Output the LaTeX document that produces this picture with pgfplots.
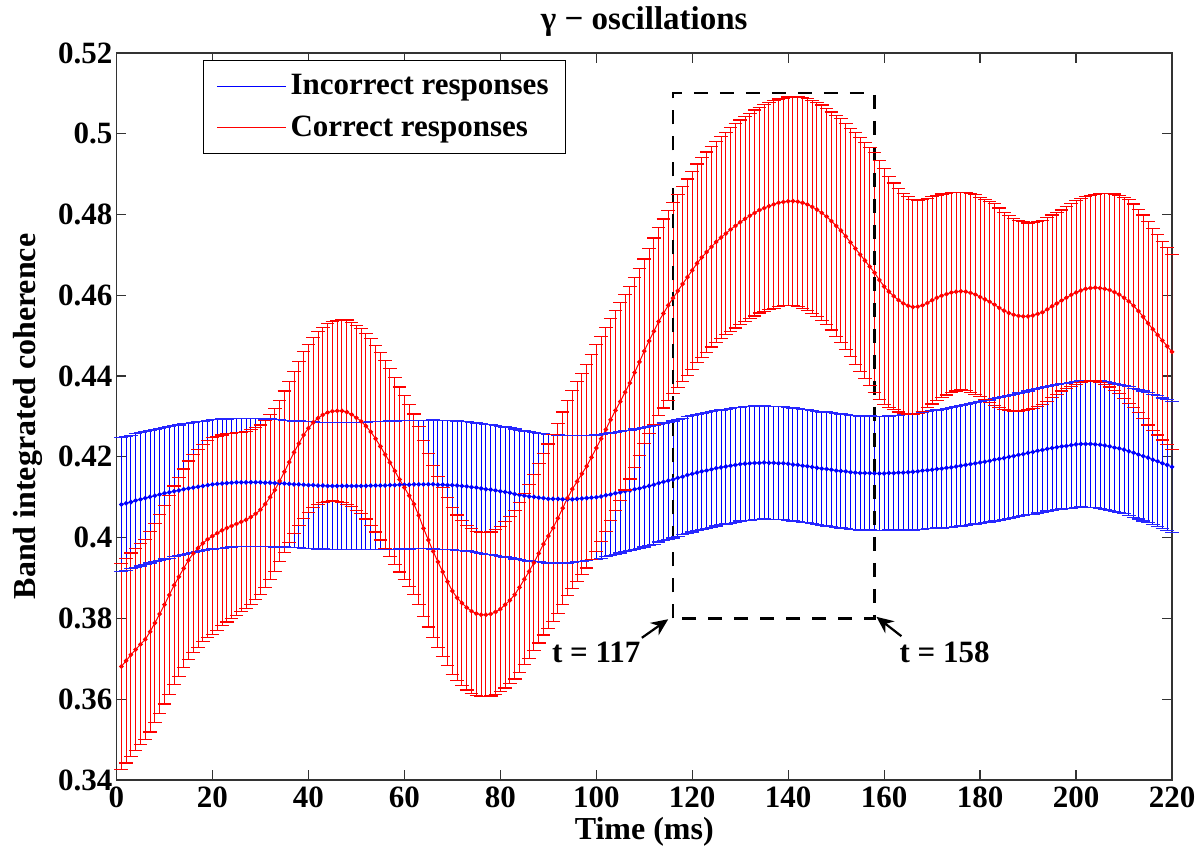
\documentclass[border=0pt]{standalone}
\usepackage{fontspec}
\setmainfont{Liberation Serif}
\usepackage{pgfplots}
\pgfplotsset{compat=1.18}
\usepackage{pgfplotstable}
\usetikzlibrary{arrows.meta}

\pgfdeclareplotmark{cap}{%
  \pgfpathmoveto{\pgfqpoint{-3.4pt}{0pt}}%
  \pgfpathlineto{\pgfqpoint{3.4pt}{0pt}}%
  \pgfusepathqstroke}

\pgfplotstableread{
x bm be rm re
1 0.4082 0.0166 0.3681 0.0255
2 0.4085 0.0166 0.3695 0.0253
3 0.4088 0.0165 0.3710 0.0252
4 0.4092 0.0165 0.3723 0.0250
5 0.4095 0.0165 0.3736 0.0249
6 0.4098 0.0164 0.3748 0.0248
7 0.4101 0.0164 0.3767 0.0248
8 0.4104 0.0164 0.3789 0.0247
9 0.4107 0.0163 0.3811 0.0247
10 0.4110 0.0163 0.3834 0.0246
11 0.4112 0.0163 0.3858 0.0246
12 0.4115 0.0162 0.3882 0.0246
13 0.4117 0.0162 0.3903 0.0246
14 0.4120 0.0162 0.3924 0.0246
15 0.4122 0.0161 0.3944 0.0246
16 0.4124 0.0161 0.3961 0.0245
17 0.4126 0.0161 0.3974 0.0245
18 0.4128 0.0160 0.3986 0.0244
19 0.4130 0.0160 0.3996 0.0244
20 0.4132 0.0160 0.4004 0.0243
21 0.4133 0.0160 0.4011 0.0240
22 0.4134 0.0160 0.4018 0.0236
23 0.4135 0.0159 0.4024 0.0233
24 0.4136 0.0159 0.4029 0.0229
25 0.4137 0.0159 0.4034 0.0226
26 0.4137 0.0159 0.4039 0.0222
27 0.4137 0.0159 0.4044 0.0219
28 0.4137 0.0158 0.4051 0.0216
29 0.4137 0.0158 0.4059 0.0213
30 0.4137 0.0158 0.4069 0.0210
31 0.4136 0.0158 0.4083 0.0207
32 0.4136 0.0158 0.4100 0.0204
33 0.4135 0.0158 0.4118 0.0201
34 0.4135 0.0158 0.4140 0.0200
35 0.4134 0.0157 0.4163 0.0200
36 0.4133 0.0157 0.4187 0.0199
37 0.4132 0.0157 0.4211 0.0201
38 0.4132 0.0157 0.4233 0.0203
39 0.4131 0.0157 0.4254 0.0206
40 0.4130 0.0157 0.4271 0.0208
41 0.4130 0.0157 0.4285 0.0211
42 0.4129 0.0157 0.4296 0.0214
43 0.4129 0.0157 0.4304 0.0217
44 0.4128 0.0157 0.4310 0.0220
45 0.4128 0.0157 0.4313 0.0222
46 0.4128 0.0158 0.4314 0.0224
47 0.4128 0.0158 0.4314 0.0226
48 0.4128 0.0158 0.4311 0.0228
49 0.4128 0.0158 0.4305 0.0228
50 0.4128 0.0158 0.4297 0.0229
51 0.4128 0.0158 0.4288 0.0229
52 0.4128 0.0158 0.4276 0.0230
53 0.4129 0.0158 0.4262 0.0231
54 0.4129 0.0158 0.4245 0.0231
55 0.4129 0.0158 0.4226 0.0232
56 0.4129 0.0159 0.4206 0.0233
57 0.4130 0.0159 0.4186 0.0232
58 0.4130 0.0159 0.4165 0.0231
59 0.4131 0.0159 0.4144 0.0229
60 0.4131 0.0159 0.4124 0.0228
61 0.4131 0.0159 0.4104 0.0225
62 0.4132 0.0159 0.4083 0.0223
63 0.4132 0.0159 0.4055 0.0220
64 0.4132 0.0159 0.4023 0.0218
65 0.4132 0.0159 0.3994 0.0215
66 0.4132 0.0160 0.3966 0.0213
67 0.4131 0.0160 0.3940 0.0211
68 0.4131 0.0160 0.3915 0.0210
69 0.4130 0.0160 0.3891 0.0208
70 0.4130 0.0160 0.3868 0.0206
71 0.4129 0.0160 0.3851 0.0205
72 0.4128 0.0160 0.3838 0.0205
73 0.4127 0.0160 0.3827 0.0204
74 0.4125 0.0160 0.3818 0.0204
75 0.4124 0.0160 0.3812 0.0203
76 0.4122 0.0161 0.3809 0.0203
77 0.4120 0.0161 0.3809 0.0203
78 0.4119 0.0161 0.3811 0.0203
79 0.4117 0.0161 0.3816 0.0204
80 0.4115 0.0161 0.3823 0.0204
81 0.4113 0.0161 0.3834 0.0206
82 0.4111 0.0161 0.3845 0.0207
83 0.4108 0.0161 0.3859 0.0209
84 0.4106 0.0160 0.3877 0.0210
85 0.4104 0.0160 0.3897 0.0212
86 0.4102 0.0160 0.3916 0.0215
87 0.4101 0.0160 0.3938 0.0218
88 0.4099 0.0159 0.3961 0.0222
89 0.4098 0.0159 0.3984 0.0225
90 0.4096 0.0159 0.4004 0.0228
91 0.4096 0.0159 0.4024 0.0231
92 0.4096 0.0158 0.4048 0.0235
93 0.4095 0.0158 0.4073 0.0238
94 0.4095 0.0158 0.4098 0.0242
95 0.4095 0.0157 0.4120 0.0245
96 0.4096 0.0156 0.4139 0.0247
97 0.4097 0.0156 0.4158 0.0249
98 0.4098 0.0155 0.4177 0.0252
99 0.4099 0.0154 0.4199 0.0254
100 0.4100 0.0154 0.4222 0.0256
101 0.4102 0.0153 0.4245 0.0254
102 0.4105 0.0152 0.4268 0.0252
103 0.4107 0.0152 0.4292 0.0250
104 0.4110 0.0151 0.4315 0.0247
105 0.4112 0.0150 0.4337 0.0245
106 0.4115 0.0150 0.4360 0.0242
107 0.4117 0.0149 0.4383 0.0238
108 0.4120 0.0149 0.4409 0.0235
109 0.4122 0.0148 0.4435 0.0231
110 0.4125 0.0148 0.4462 0.0228
111 0.4128 0.0147 0.4487 0.0229
112 0.4131 0.0147 0.4511 0.0231
113 0.4135 0.0146 0.4535 0.0232
114 0.4138 0.0146 0.4555 0.0234
115 0.4141 0.0145 0.4575 0.0235
116 0.4144 0.0145 0.4593 0.0237
117 0.4148 0.0145 0.4611 0.0239
118 0.4151 0.0144 0.4628 0.0241
119 0.4155 0.0144 0.4645 0.0243
120 0.4158 0.0144 0.4662 0.0245
121 0.4161 0.0144 0.4679 0.0246
122 0.4164 0.0143 0.4694 0.0247
123 0.4166 0.0143 0.4707 0.0248
124 0.4169 0.0143 0.4720 0.0248
125 0.4172 0.0143 0.4732 0.0249
126 0.4174 0.0142 0.4743 0.0250
127 0.4176 0.0142 0.4753 0.0251
128 0.4178 0.0142 0.4763 0.0252
129 0.4180 0.0142 0.4772 0.0253
130 0.4182 0.0141 0.4781 0.0253
131 0.4183 0.0141 0.4789 0.0254
132 0.4184 0.0141 0.4797 0.0254
133 0.4185 0.0141 0.4804 0.0255
134 0.4185 0.0140 0.4811 0.0255
135 0.4186 0.0140 0.4816 0.0256
136 0.4185 0.0140 0.4821 0.0256
137 0.4185 0.0140 0.4825 0.0257
138 0.4184 0.0140 0.4829 0.0257
139 0.4184 0.0140 0.4831 0.0257
140 0.4183 0.0140 0.4833 0.0258
141 0.4181 0.0140 0.4833 0.0258
142 0.4180 0.0140 0.4832 0.0259
143 0.4178 0.0140 0.4829 0.0261
144 0.4177 0.0140 0.4825 0.0262
145 0.4175 0.0140 0.4819 0.0264
146 0.4173 0.0140 0.4812 0.0265
147 0.4171 0.0140 0.4804 0.0267
148 0.4170 0.0141 0.4795 0.0268
149 0.4168 0.0141 0.4784 0.0270
150 0.4166 0.0141 0.4772 0.0273
151 0.4165 0.0141 0.4760 0.0277
152 0.4164 0.0141 0.4746 0.0280
153 0.4162 0.0141 0.4731 0.0283
154 0.4161 0.0141 0.4716 0.0287
155 0.4160 0.0141 0.4701 0.0290
156 0.4160 0.0141 0.4686 0.0292
157 0.4160 0.0141 0.4671 0.0295
158 0.4159 0.0141 0.4656 0.0297
159 0.4159 0.0141 0.4638 0.0295
160 0.4159 0.0141 0.4622 0.0292
161 0.4160 0.0141 0.4609 0.0286
162 0.4160 0.0142 0.4598 0.0280
163 0.4161 0.0142 0.4588 0.0277
164 0.4161 0.0143 0.4580 0.0273
165 0.4162 0.0143 0.4574 0.0270
166 0.4163 0.0144 0.4571 0.0267
167 0.4164 0.0144 0.4572 0.0264
168 0.4166 0.0145 0.4575 0.0262
169 0.4167 0.0145 0.4581 0.0259
170 0.4168 0.0146 0.4588 0.0257
171 0.4170 0.0146 0.4594 0.0254
172 0.4171 0.0147 0.4599 0.0252
173 0.4173 0.0147 0.4603 0.0250
174 0.4174 0.0148 0.4607 0.0248
175 0.4176 0.0148 0.4609 0.0246
176 0.4178 0.0149 0.4610 0.0244
177 0.4180 0.0149 0.4609 0.0245
178 0.4182 0.0150 0.4606 0.0246
179 0.4184 0.0150 0.4602 0.0247
180 0.4186 0.0151 0.4596 0.0247
181 0.4188 0.0151 0.4590 0.0248
182 0.4190 0.0151 0.4584 0.0249
183 0.4193 0.0152 0.4577 0.0250
184 0.4195 0.0152 0.4569 0.0247
185 0.4197 0.0152 0.4562 0.0244
186 0.4200 0.0152 0.4556 0.0242
187 0.4202 0.0153 0.4552 0.0239
188 0.4205 0.0153 0.4549 0.0236
189 0.4207 0.0153 0.4548 0.0234
190 0.4210 0.0153 0.4548 0.0231
191 0.4212 0.0154 0.4550 0.0230
192 0.4215 0.0154 0.4554 0.0229
193 0.4217 0.0154 0.4558 0.0228
194 0.4220 0.0154 0.4565 0.0227
195 0.4222 0.0155 0.4573 0.0226
196 0.4224 0.0155 0.4580 0.0225
197 0.4226 0.0155 0.4587 0.0224
198 0.4227 0.0155 0.4594 0.0225
199 0.4229 0.0156 0.4601 0.0226
200 0.4231 0.0156 0.4607 0.0227
201 0.4232 0.0156 0.4612 0.0228
202 0.4232 0.0157 0.4616 0.0229
203 0.4232 0.0157 0.4618 0.0230
204 0.4231 0.0157 0.4619 0.0231
205 0.4230 0.0158 0.4618 0.0234
206 0.4228 0.0158 0.4616 0.0237
207 0.4226 0.0158 0.4613 0.0240
208 0.4223 0.0159 0.4608 0.0243
209 0.4221 0.0159 0.4602 0.0246
210 0.4218 0.0159 0.4594 0.0249
211 0.4214 0.0160 0.4585 0.0252
212 0.4210 0.0160 0.4574 0.0252
213 0.4206 0.0160 0.4561 0.0252
214 0.4202 0.0161 0.4547 0.0252
215 0.4198 0.0161 0.4531 0.0252
216 0.4193 0.0161 0.4516 0.0250
217 0.4189 0.0162 0.4502 0.0248
218 0.4184 0.0162 0.4488 0.0246
219 0.4180 0.0163 0.4474 0.0244
220 0.4175 0.0163 0.4460 0.0242
}\data

\newcommand{\fs}{\fontsize{15.5}{18}\selectfont\bfseries}

\begin{document}
\begin{tikzpicture}
\begin{axis}[
  scale only axis, width=527.75pt, height=363.5pt,
  xmin=0, xmax=220, ymin=0.34, ymax=0.52,
  xtick={0,20,40,60,80,100,120,140,160,180,200,220},
  ytick={0.34,0.36,0.38,0.40,0.42,0.44,0.46,0.48,0.50,0.52},
  /pgf/number format/assume math mode=true,
  yticklabel style={/pgf/number format/fixed, /pgf/number format/precision=2, xshift=1.5pt},
  tick label style={font=\fs},
  major tick length=5pt,
  tick style={line width=0.6pt, color=black!80},
  axis line style={line width=0.7pt, color=black!80},
  xlabel={Time (ms)},
  ylabel={Band integrated coherence},
  label style={font=\fontsize{16}{19}\selectfont\bfseries},
  xlabel style={at={(axis description cs:0.5,0)}, anchor=base, yshift=-30pt},
  ylabel style={at={(axis description cs:-0.0772,0.5)}, anchor=base},
  title={γ − oscillations},
  title style={font=\fontsize{16.5}{19}\selectfont\bfseries, at={(axis description cs:0.5,1)}, anchor=base, yshift=5.5pt},
  legend cell align=left,
  legend style={at={(0.082,0.9904)}, anchor=north west, draw=black, line width=0.5pt,
    font=\fs, inner xsep=6.5pt, inner ysep=5pt, row sep=5pt, nodes={inner sep=2pt}},
  legend image code/.code={\draw[#1] (0pt,0pt) -- (34.5pt,0pt);},
]
\addlegendimage{blue, line width=0.5pt}
\addlegendentry{Incorrect responses}
\addlegendimage{red, line width=0.5pt}
\addlegendentry{Correct responses}

% blue: incorrect responses
\addplot[forget plot, draw=none, mark=none,
  error bars/.cd, y dir=both, y explicit, error mark=none,
  error bar style={line width=0.5pt, blue}]
  table[x=x, y=bm, y error=be] {\data};
\addplot[forget plot, color=blue!85, only marks, mark=cap,
  mark options={draw=blue!85, line width=0.6pt}]
  table[x=x, y expr=\thisrow{bm}+\thisrow{be}] {\data};
\addplot[forget plot, color=blue!85, only marks, mark=cap,
  mark options={draw=blue!85, line width=0.6pt}]
  table[x=x, y expr=\thisrow{bm}-\thisrow{be}] {\data};
\addplot[forget plot, color=blue, line width=0.5pt, mark=*, mark size=0.9pt,
  mark options={fill=blue, draw=blue}]
  table[x=x, y=bm] {\data};

% red: correct responses
\addplot[forget plot, draw=none, mark=none,
  error bars/.cd, y dir=both, y explicit, error mark=none,
  error bar style={line width=0.5pt, red}]
  table[x=x, y=rm, y error=re] {\data};
\addplot[forget plot, color=red, only marks, mark=cap,
  mark options={draw=red, line width=0.6pt}]
  table[x=x, y expr=\thisrow{rm}+\thisrow{re}] {\data};
\addplot[forget plot, color=red, only marks, mark=cap,
  mark options={draw=red, line width=0.6pt}]
  table[x=x, y expr=\thisrow{rm}-\thisrow{re}] {\data};
\addplot[forget plot, color=red, line width=0.5pt, mark=*, mark size=0.9pt,
  mark options={fill=red, draw=red}]
  table[x=x, y=rm] {\data};

\draw[black, line width=1.1pt, dash pattern=on 7pt off 6pt] (axis cs:116,0.38) rectangle (axis cs:158,0.51);
\draw[-{Stealth[length=8.5pt,width=7.5pt]}, line width=1.1pt] (axis cs:109.5,0.3752) -- (axis cs:115.0,0.3798);
\draw[-{Stealth[length=8.5pt,width=7.5pt]}, line width=1.1pt] (axis cs:163.6,0.3756) -- (axis cs:158.4,0.3804);
\node[font=\fs] at (axis cs:100.0,0.3717) {t = 117};
\node[font=\fs] at (axis cs:172.6,0.3717) {t = 158};

\coordinate (bl) at (rel axis cs:0,0);
\coordinate (tr) at (rel axis cs:1,1);
\end{axis}
\pgfresetboundingbox
\useasboundingbox ([shift={(-58.25pt,-37pt)}]bl) rectangle ([shift={(13.5pt,26.5pt)}]tr);
\end{tikzpicture}
\end{document}
